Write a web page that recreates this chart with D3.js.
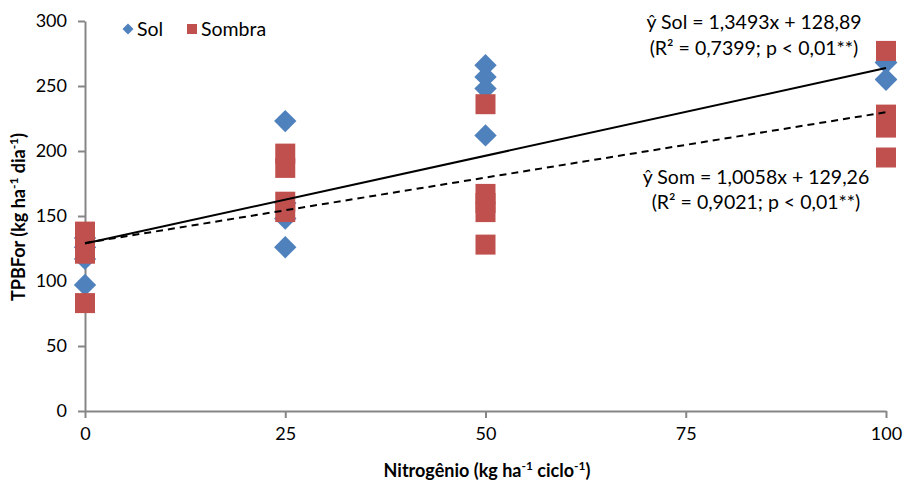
<!DOCTYPE html>
<html>
<head>
<meta charset="utf-8">
<script src="https://cdn.jsdelivr.net/npm/d3@7"></script>
<style>
  body { margin: 0; background: #fff; }
  svg text { font-family: Lato, "Open Sans", sans-serif; fill: #000; }
</style>
</head>
<body>
<svg id="chart"></svg>
<script>
const solDose    = [0, 0, 0, 0, 25, 25, 25, 25, 50, 50, 50, 50, 100, 100, 100, 100]
const solValue   = [97, 117, 126, 133, 223, 160, 148, 126, 266, 257, 248, 212, 268, 255, 268, 255]
const sombraDose = [0, 0, 0, 0, 25, 25, 25, 25, 50, 50, 50, 50, 50, 100, 100, 100, 100]
const sombraValue = [138, 130, 121, 83, 198, 187, 161, 153, 236, 167, 160, 153, 128, 277, 228, 218, 195]
const xTicks = [0, 25, 50, 75, 100]
const yTicks = [0, 50, 100, 150, 200, 250, 300]
// fitted models
const fitSol = {a: 1.3493, b: 128.89}
const fitSombra = {a: 1.0058, b: 129.26}

const width = 905, height = 483
const margin = {top: 21, right: 19, bottom: 72, left: 85}

const svg = d3.select("#chart")
    .attr("width", width)
    .attr("height", height)

const x = d3.scaleLinear().domain([0, 100]).range([margin.left, width - margin.right])
const y = d3.scaleLinear().domain([0, 300]).range([height - margin.bottom, margin.top])

const axisColor = "#868686"

// y axis
const yAxis = svg.append("g")
    .attr("transform", `translate(${margin.left},0)`)
    .call(d3.axisLeft(y).tickValues(yTicks).tickSize(7).tickPadding(11).tickSizeOuter(0))
yAxis.select(".domain").attr("stroke", axisColor).attr("stroke-width", 2)
yAxis.selectAll(".tick line").attr("stroke", axisColor).attr("stroke-width", 2)
yAxis.selectAll("text").style("font-size", "18px")

// x axis
const xAxis = svg.append("g")
    .attr("transform", `translate(0,${y(0)})`)
    .call(d3.axisBottom(x).tickValues(xTicks).tickSize(7).tickPadding(9).tickSizeOuter(0))
xAxis.select(".domain").attr("stroke", axisColor).attr("stroke-width", 2)
xAxis.selectAll(".tick line").attr("stroke", axisColor).attr("stroke-width", 2)
xAxis.selectAll("text").style("font-size", "18px")

// markers
const diamond = d3.symbol().type(d3.symbolSquare).size(250)
const body = svg.append("g")

body.selectAll("path.sol")
    .data(solDose.map((d, i) => [d, solValue[i]]))
    .enter().append("path")
    .attr("class", "sol")
    .attr("d", diamond)
    .attr("transform", d => `translate(${x(d[0])},${y(d[1])}) rotate(45)`)
    .attr("fill", "#4F81BD")

body.selectAll("rect.sombra")
    .data(sombraDose.map((d, i) => [d, sombraValue[i]]))
    .enter().append("rect")
    .attr("class", "sombra")
    .attr("x", d => x(d[0]) - 10)
    .attr("y", d => y(d[1]) - 10)
    .attr("width", 20)
    .attr("height", 20)
    .attr("fill", "#C0504D")

// regression lines
const line = d3.line().x(d => x(d[0])).y(d => y(d[1]))
svg.append("path")
    .attr("d", line([0, 100].map(v => [v, fitSol.a * v + fitSol.b])))
    .attr("stroke", "#000").attr("stroke-width", 2).attr("fill", "none")
svg.append("path")
    .attr("d", line([0, 100].map(v => [v, fitSombra.a * v + fitSombra.b])))
    .attr("stroke", "#000").attr("stroke-width", 2).attr("fill", "none")
    .attr("stroke-dasharray", "7,5")

// equations
const eq = svg.append("g").style("font-size", "19.5px").attr("text-anchor", "middle")
eq.append("text").attr("x", 754).attr("y", 29).text("ŷ Sol = 1,3493x + 128,89")
eq.append("text").attr("x", 754).attr("y", 55).text("(R² = 0,7399; p < 0,01**)")
eq.append("text").attr("x", 756).attr("y", 184).text("ŷ Som = 1,0058x + 129,26")
eq.append("text").attr("x", 756).attr("y", 209).text("(R² = 0,9021; p < 0,01**)")

// legend
const legend = svg.append("g").style("font-size", "19.5px")
legend.append("path")
    .attr("d", d3.symbol().type(d3.symbolSquare).size(60))
    .attr("transform", "translate(128,29) rotate(45)")
    .attr("fill", "#4F81BD")
legend.append("text").attr("x", 137).attr("y", 36).text("Sol")
legend.append("rect").attr("x", 187).attr("y", 24).attr("width", 10).attr("height", 10).attr("fill", "#C0504D")
legend.append("text").attr("x", 201).attr("y", 36).text("Sombra")

// axis titles
const xt = svg.append("text")
    .attr("x", 487).attr("y", 477)
    .attr("text-anchor", "middle")
    .style("font-size", "18px").style("font-weight", "bold")
xt.append("tspan").text("Nitrogênio (kg ha")
xt.append("tspan").attr("baseline-shift", "super").style("font-size", "12px").text("-1")
xt.append("tspan").text(" ciclo")
xt.append("tspan").attr("baseline-shift", "super").style("font-size", "12px").text("-1")
xt.append("tspan").text(")")

const yt = svg.append("text")
    .attr("transform", "translate(25,217) rotate(-90)")
    .attr("text-anchor", "middle")
    .style("font-size", "18px").style("font-weight", "bold")
yt.append("tspan").text("TPBFor (kg ha")
yt.append("tspan").attr("baseline-shift", "super").style("font-size", "12px").text("-1")
yt.append("tspan").text(" dia")
yt.append("tspan").attr("baseline-shift", "super").style("font-size", "12px").text("-1")
yt.append("tspan").text(")")
</script>
</body>
</html>
